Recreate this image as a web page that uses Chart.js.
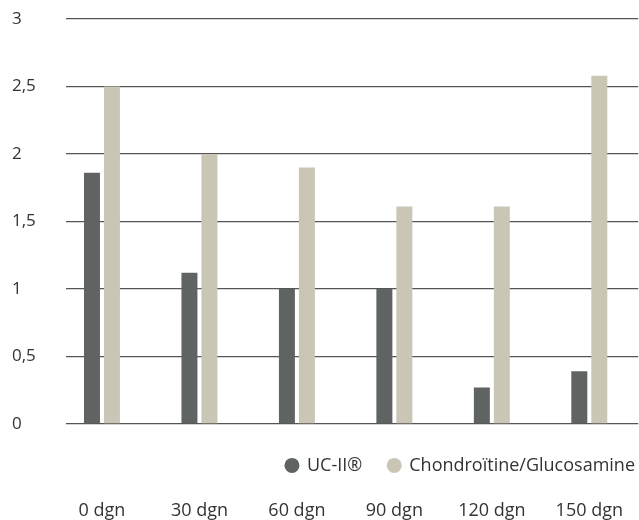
<!DOCTYPE html>
<html>
<head>
<meta charset="utf-8">
<script src="https://cdn.jsdelivr.net/npm/chart.js@4.4.1/dist/chart.umd.min.js"></script>
<style>
  html, body { margin: 0; padding: 0; background: #ffffff; }
  #wrap { position: relative; width: 639px; height: 520px; }
</style>
</head>
<body>
<div id="wrap"><canvas id="c"></canvas></div>
<script>
const categories = ['0 dgn', '30 dgn', '60 dgn', '90 dgn', '120 dgn', '150 dgn'];
const seriesNames = ['UC-II®', 'Chondroïtine/Glucosamine'];
const ucII = [1.86, 1.12, 1.0, 1.0, 0.27, 0.39];
const chondro = [2.5, 2.0, 1.9, 1.61, 1.61, 2.58];
const yTicks = [0, 0.5, 1, 1.5, 2, 2.5, 3];

const toPoints = arr => arr.map((v, i) => ({ x: i, y: v }));
const FONT = '"Open Sans", Lato, sans-serif';

new Chart(document.getElementById('c'), {
  type: 'bar',
  data: {
    datasets: [
      { label: seriesNames[0], data: toPoints(ucII), backgroundColor: '#5f6362', borderWidth: 0,
        categoryPercentage: 0.41, barPercentage: 0.8 },
      { label: seriesNames[1], data: toPoints(chondro), backgroundColor: '#c9c6b5', borderWidth: 0,
        categoryPercentage: 0.41, barPercentage: 0.8 }
    ]
  },
  options: {
    responsive: true,
    maintainAspectRatio: false,
    animation: false,
    layout: { padding: { left: 12, right: -22, top: 19, bottom: -18 } },
    scales: {
      x: {
        type: 'linear',
        offset: false,
        weight: 2000,
        min: -0.369,
        max: 5.502,
        grid: { display: false, drawTicks: false, offset: false },
        border: { display: false },
        ticks: {
          stepSize: 1,
          includeBounds: false,
          autoSkip: false,
          maxRotation: 0,
          padding: 16,
          color: '#333333',
          font: { family: FONT, size: 18 },
          callback: v => categories[v]
        }
      },
      y: {
        min: 0,
        max: 3,
        afterFit: s => { s.width = 54; },
        afterBuildTicks: s => { s.ticks = yTicks.map(v => ({ value: v })); },
        grid: { color: '#555555', lineWidth: 1.2, drawTicks: false },
        border: { display: false },
        ticks: {
          crossAlign: 'far',
          padding: 0,
          color: '#333333',
          font: { family: FONT, size: 17 },
          callback: v => String(v).replace('.', ',')
        }
      }
    },
    plugins: {
      tooltip: { enabled: false },
      legend: {
        position: 'bottom',
        align: 'end',
        title: { display: true, text: '', padding: 0, font: { size: 6.5, lineHeight: 1 } },
        labels: {
          usePointStyle: true,
          pointStyle: 'circle',
          boxWidth: 12,
          boxHeight: 10.6,
          padding: 26,
          color: '#333333',
          font: { family: FONT, size: 18 }
        }
      }
    }
  }
});
</script>
</body>
</html>
